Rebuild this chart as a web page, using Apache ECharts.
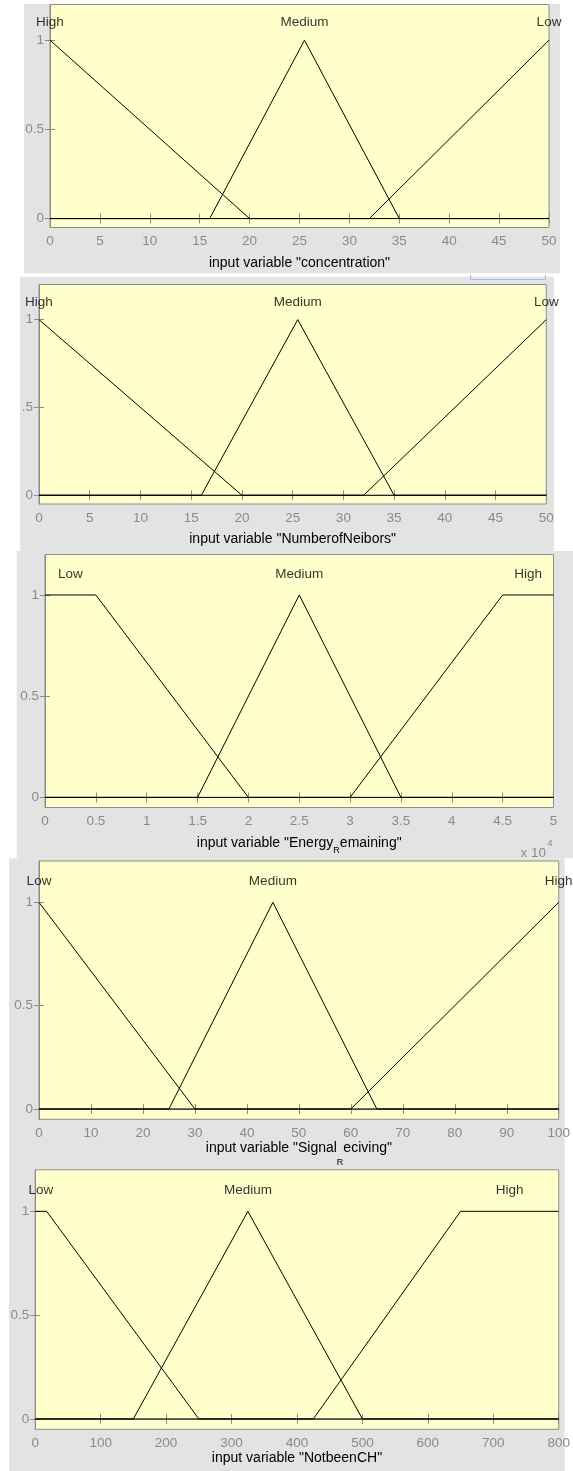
<!DOCTYPE html>
<html>
<head>
<meta charset="utf-8">
<script src="https://cdn.jsdelivr.net/npm/echarts@6/dist/echarts.min.js"></script>
<style>
html,body{margin:0;padding:0;background:#ffffff;}
#chart{width:573px;height:1471px;}
</style>
</head>
<body>
<div id="chart"></div>
<script>
// ---------------- DATA ----------------
// Panel 1: input variable "concentration"
const concRange = [0, 50, 5];
const concHigh = [[0, 1], [20, 0], [50, 0]];
const concMedium = [[0, 0], [16, 0], [25.5, 1], [35, 0], [50, 0]];
const concLow = [[0, 0], [32, 0], [50, 1]];
const concMfLabels = [['High', 0], ['Medium', 25.5], ['Low', 50]];

// Panel 2: input variable "NumberofNeibors"
const neibRange = [0, 50, 5];
const neibHigh = [[0, 1], [20, 0], [50, 0]];
const neibMedium = [[0, 0], [16, 0], [25.5, 1], [35, 0], [50, 0]];
const neibLow = [[0, 0], [32, 0], [50, 1]];
const neibMfLabels = [['High', 0], ['Medium', 25.5], ['Low', 50]];

// Panel 3: input variable "Energy_Remaining" (x values in units of 10^4)
const energyRange = [0, 5, 0.5];
const energyExponent = 4;
const energyLow = [[0, 1], [0.5, 1], [2, 0], [5, 0]];
const energyMedium = [[0, 0], [1.5, 0], [2.5, 1], [3.5, 0], [5, 0]];
const energyHigh = [[0, 0], [3, 0], [4.5, 1], [5, 1]];
const energyMfLabels = [['Low', 0.25], ['Medium', 2.5], ['High', 4.75]];

// Panel 4: input variable "Signal_Receiving"
const signalRange = [0, 100, 10];
const signalLow = [[0, 1], [30, 0], [100, 0]];
const signalMedium = [[0, 0], [25, 0], [45, 1], [65, 0], [100, 0]];
const signalHigh = [[0, 0], [60, 0], [100, 1]];
const signalMfLabels = [['Low', 0], ['Medium', 45], ['High', 100]];

// Panel 5: input variable "NotbeenCH"
const notbeenRange = [0, 800, 100];
const notbeenLow = [[0, 1], [17.5, 1], [250, 0], [800, 0]];
const notbeenMedium = [[0, 0], [150, 0], [325, 1], [500, 0], [800, 0]];
const notbeenHigh = [[0, 0], [425, 0], [650, 1], [800, 1]];
const notbeenMfLabels = [['Low', 8.75], ['Medium', 325], ['High', 725]];

// Y axis ticks
const yRange = [-0.05, 1.2];
const yTickValues = [0, 0.5, 1];
const yTickLabels = ['0', '0.5', '1'];
const yTickLabelsClipped = ['0', '.5', '1'];
const mfLabelY = 1.1;

// ---------------- LAYOUT / STYLE ----------------
const FONT = '"Liberation Sans", Arial, sans-serif';
const TICK_TXT = '#8a8a8a';
const BORDER = '#8c8c8c';
const PLOT_BG = '#ffffcc';
const FIG_BG = '#e3e3e3';
const FS = 13.5;

const panels = [
  { title: [{ t: 'input variable "concentration"' }], range: concRange, yLabels: yTickLabels,
    mfs: [concHigh, concMedium, concLow], mfLabels: concMfLabels,
    grid: { left: 50, top: 4.5, width: 499, height: 223 }, nameGap: 29, subPad: 10 },
  { title: [{ t: 'input variable "NumberofNeibors"' }], range: neibRange, yLabels: yTickLabelsClipped,
    mfs: [neibHigh, neibMedium, neibLow], mfLabels: neibMfLabels,
    grid: { left: 39, top: 284.5, width: 507.3, height: 219.5 }, nameGap: 28.3, subPad: 10 },
  { title: [{ t: 'input variable "Energy' }, { t: 'R', sub: true }, { t: 'emaining"' }], range: energyRange, yLabels: yTickLabels,
    mfs: [energyLow, energyMedium, energyHigh], mfLabels: energyMfLabels,
    grid: { left: 45, top: 554.5, width: 508.5, height: 253 }, nameGap: 28.5, subPad: 10 },
  { title: [{ t: 'input variable "Signal' }, { t: 'R', sub: true }, { t: 'eciving"' }], range: signalRange, yLabels: yTickLabels,
    mfs: [signalLow, signalMedium, signalHigh], mfLabels: signalMfLabels,
    grid: { left: 39, top: 861, width: 523.3, height: 258.3 }, nameGap: 19.7, subPad: 17 },
  { title: [{ t: 'input variable "NotbeenCH"' }], range: notbeenRange, yLabels: yTickLabels,
    mfs: [notbeenLow, notbeenMedium, notbeenHigh], mfLabels: notbeenMfLabels,
    grid: { left: 35.2, top: 1169.8, width: 525.8, height: 259.5 }, nameGap: 18.7, subPad: 10 }
];

const grayRects = [
  [24, 4, 536, 269.3],
  [20, 276.7, 534, 274.3],
  [16.7, 551, 556.3, 307.3],
  [9, 858.3, 555.6, 612.7]
];

// ---------------- OPTION ----------------
const grids = [], xAxes = [], yAxes = [], series = [];

panels.forEach((p, i) => {
  grids.push(Object.assign({ show: true, backgroundColor: PLOT_BG, borderColor: BORDER, borderWidth: 1 }, p.grid));

  const nameStr = p.title.map(s => s.sub ? '{s|' + s.t + '}' : '{m|' + s.t + '}').join('');
  const tickStyle = { show: true, inside: true, length: 5, lineStyle: { color: BORDER, width: 1 } };
  const lineStyle = { show: true, lineStyle: { color: BORDER, width: 1 } };

  xAxes.push({
    gridIndex: i, type: 'value', position: 'bottom',
    min: p.range[0], max: p.range[1], interval: p.range[2],
    axisLine: lineStyle, axisTick: tickStyle, splitLine: { show: false },
    axisLabel: { color: TICK_TXT, fontSize: FS, fontFamily: FONT, margin: 7, showMinLabel: true, showMaxLabel: true },
    name: nameStr, nameLocation: 'middle', nameGap: p.nameGap,
    nameTextStyle: {
      rich: {
        m: { fontSize: 14, fontFamily: FONT, color: '#000', lineHeight: 40, verticalAlign: 'top' },
        s: { fontSize: 9, fontFamily: FONT, color: '#000', lineHeight: 40, verticalAlign: 'top', padding: [p.subPad, 0, 0, 0] }
      }
    }
  });
  xAxes.push({
    gridIndex: i, type: 'value', position: 'top',
    min: p.range[0], max: p.range[1], interval: p.range[2],
    axisLine: lineStyle, axisTick: tickStyle, splitLine: { show: false }, axisLabel: { show: false }
  });
  yAxes.push({
    gridIndex: i, type: 'value', position: 'left',
    min: yRange[0], max: yRange[1],
    axisLine: lineStyle, splitLine: { show: false },
    axisTick: Object.assign({ customValues: yTickValues }, tickStyle),
    axisLabel: {
      customValues: yTickValues, color: TICK_TXT, fontSize: FS, fontFamily: FONT, margin: 6,
      formatter: (v) => p.yLabels[yTickValues.indexOf(v)]
    }
  });
  yAxes.push({
    gridIndex: i, type: 'value', position: 'right',
    min: yRange[0], max: yRange[1],
    axisLine: lineStyle, splitLine: { show: false },
    axisTick: Object.assign({ customValues: yTickValues }, tickStyle),
    axisLabel: { show: false }
  });

  p.mfs.forEach(d => {
    series.push({
      type: 'line', xAxisIndex: 2 * i, yAxisIndex: 2 * i, data: d,
      showSymbol: false, symbol: 'none', silent: true,
      lineStyle: { color: '#000', width: 1 }
    });
  });
  series.push({
    type: 'scatter', xAxisIndex: 2 * i, yAxisIndex: 2 * i, symbolSize: 0, silent: true,
    data: p.mfLabels.map(l => ({ name: l[0], value: [l[1], mfLabelY] })),
    label: { show: true, position: 'inside', formatter: '{b}', color: '#000', fontSize: FS, fontFamily: FONT }
  });
});

const graphics = grayRects.map(r => ({
  type: 'rect', z: -100, silent: true,
  shape: { x: r[0], y: r[1], width: r[2], height: r[3] },
  style: { fill: FIG_BG }
}));
graphics.push({
  type: 'polyline', z: 100, silent: true,
  shape: { points: [[470.5, 275], [470.5, 279.5], [545.5, 279.5], [545.5, 275]] },
  style: { stroke: '#a9c1e0', fill: null, lineWidth: 1 }
});
graphics.push({
  type: 'text', z: 100, silent: true,
  style: { x: 546, y: 853, text: 'x 10', align: 'right', verticalAlign: 'middle', fill: TICK_TXT, font: '13.5px ' + FONT }
});
graphics.push({
  type: 'text', z: 100, silent: true,
  style: { x: 547.5, y: 843.5, text: String(energyExponent), align: 'left', verticalAlign: 'middle', fill: TICK_TXT, font: '9px ' + FONT }
});

const chart = echarts.init(document.getElementById('chart'), null, { renderer: 'canvas' });
chart.setOption({
  animation: false,
  backgroundColor: '#ffffff',
  textStyle: { fontFamily: FONT },
  grid: grids, xAxis: xAxes, yAxis: yAxes, series: series,
  graphic: { elements: graphics }
});
</script>
</body>
</html>
